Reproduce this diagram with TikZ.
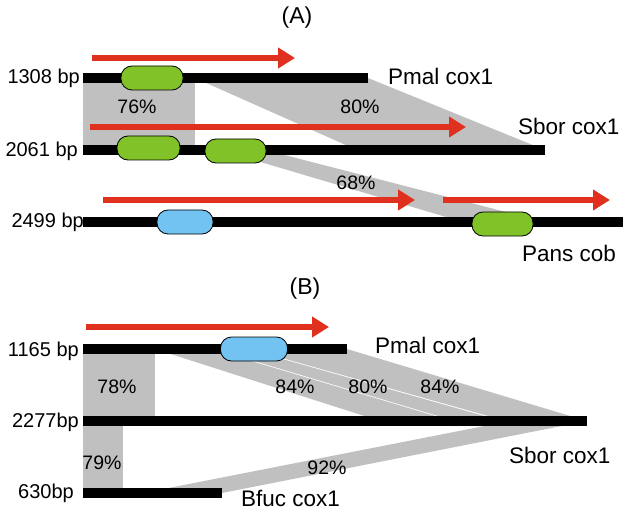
\documentclass[tikz,border=0pt]{standalone}
\usepackage{fontspec}
\setmainfont{Liberation Sans}
\usetikzlibrary{arrows.meta}
\definecolor{bandgray}{HTML}{C0C0C0}
\definecolor{orfred}{HTML}{E0301E}
\definecolor{genegreen}{HTML}{80C228}
\definecolor{geneblue}{HTML}{72C2F2}
\tikzset{
  seqbar/.style={line width=10pt},
  band/.style={fill=bandgray},
  orf/.style={orfred, line width=6pt, -{Triangle[length=17pt,width=20pt]}},
  gene/.style={draw=black, line width=0.8pt, rounded corners=11pt, minimum height=24pt, inner sep=0pt},
  seqname/.style={anchor=west, inner sep=0pt, font=\fontsize{22.5}{26}\selectfont},
  seqlen/.style={anchor=east, inner sep=0pt, font=\fontsize{20}{24}\selectfont},
  ident/.style={inner sep=0pt, font=\fontsize{19.5}{23}\selectfont},
}
\begin{document}
\begin{tikzpicture}[x=1pt, y=-1pt]
  \useasboundingbox (0,0) rectangle (629,513);
  % (A)
  \node [inner sep=0pt, font=\fontsize{23}{27}\selectfont] (A) at (297,18) {(A)};
  \fill [band] (83,78) -- (195,78) -- (195,150) -- (83,150) -- cycle;
  \fill [band] (195,78) -- (368,78) -- (545,150) -- (357,150) -- cycle;
  \fill [band] (220,150) -- (265,150) -- (545,222) -- (463,222) -- cycle;
  \draw [seqbar] (83,78) -- (368,78);
  \draw [seqbar] (83,150) -- (545,150);
  \draw [seqbar] (83,222) -- (623,222);
  \draw [orf] (92,58) -- (295,58);
  \draw [orf] (90,127) -- (466,127);
  \draw [orf] (103,200) -- (415,200);
  \draw [orf] (443,200) -- (610,200);
  \node [gene, fill=genegreen, minimum width=62pt] (ga1) at (152,78) {};
  \node [gene, fill=genegreen, minimum width=63pt] (ga2) at (148.5,148) {};
  \node [gene, fill=genegreen, minimum width=61pt] (ga3) at (235.5,151) {};
  \node [gene, fill=geneblue, minimum width=56pt] (ga4) at (185,222) {};
  \node [gene, fill=genegreen, minimum width=61pt] (ga5) at (502.5,224) {};
  \node [seqlen] (la1) at (80,78) {1308 bp};
  \node [seqlen] (la2) at (78,151) {2061 bp};
  \node [seqlen] (la3) at (84,222) {2499 bp};
  \node [seqname] (na1) at (388,76) {Pmal cox1};
  \node [seqname] (na2) at (518,126) {Sbor cox1};
  \node [seqname] (na3) at (522,253) {Pans cob};
  \node [ident] (pa1) at (137,107) {76\%};
  \node [ident] (pa2) at (360,107) {80\%};
  \node [ident] (pa3) at (356,183) {68\%};
  % (B)
  \node [inner sep=0pt, font=\fontsize{23}{27}\selectfont] (B) at (305,289) {(B)};
  \fill [band] (83,349) -- (155,349) -- (155,421) -- (83,421) -- cycle;
  \fill [band] (83,421) -- (123,421) -- (123,493) -- (83,493) -- cycle;
  \fill [band] (155,349) -- (211,349) -- (452,421) -- (380,421) -- cycle;
  \fill [band] (214,349) -- (247,349) -- (502,421) -- (455,421) -- cycle;
  \fill [band] (250,349) -- (347,349) -- (587,421) -- (506,421) -- cycle;
  \fill [band] (143,493) -- (222,493) -- (587,421) -- (510,421) -- cycle;
  \draw [seqbar] (83,349) -- (347,349);
  \draw [seqbar] (83,421) -- (587,421);
  \draw [seqbar] (83,493) -- (222,493);
  \draw [orf] (86,327) -- (329,327);
  \node [gene, fill=geneblue, minimum width=67pt] (gb1) at (254,349) {};
  \node [seqlen] (lb1) at (79,351) {1165 bp};
  \node [seqlen] (lb2) at (79,422) {2277bp};
  \node [seqlen] (lb3) at (74,493) {630bp};
  \node [seqname] (nb1) at (375,345) {Pmal cox1};
  \node [seqname] (nb2) at (509,455) {Sbor cox1};
  \node [seqname] (nb3) at (241,498) {Bfuc cox1};
  \node [ident] (pb1) at (117,387) {78\%};
  \node [ident] (pb2) at (295,387) {84\%};
  \node [ident] (pb3) at (368,387) {80\%};
  \node [ident] (pb4) at (440,387) {84\%};
  \node [ident] (pb5) at (102,463) {79\%};
  \node [ident] (pb6) at (327,468) {92\%};
\end{tikzpicture}
\end{document}
